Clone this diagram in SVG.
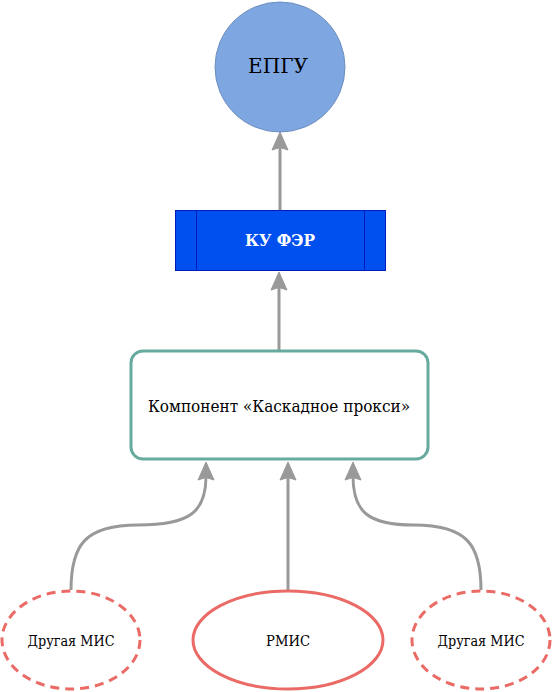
<svg xmlns="http://www.w3.org/2000/svg" width="553" height="692" viewBox="0 0 553 692">
<style>
.edge{fill:none;stroke:#999999;stroke-width:3}
.mis{fill:#fff;stroke:#EA6B66;stroke-width:3}
.t{font-family:"DejaVu Serif","Liberation Serif",serif;fill:#000;text-anchor:middle}
</style>
<defs>
<path id="up" d="M0,0 L8,18 L0,15.5 L-8,18 Z" fill="#999999" stroke="#999999" stroke-width="1" stroke-linejoin="miter"/>
</defs>
<rect width="553" height="692" fill="#fff"/>
<g id="connectors">
<path class="edge" d="M280,210 L280,146"/>
<use href="#up" x="280" y="132"/>
<path class="edge" d="M279,350 L279,286"/>
<use href="#up" x="279" y="272"/>
<path class="edge" d="M288,590 L288,476"/>
<use href="#up" x="288" y="462"/>
<path class="edge" d="M71,590 C71,545 85,525 138,525 C190,525 206,512 206,476"/>
<use href="#up" x="206" y="462"/>
<path class="edge" d="M481,590 C481,545 467,525 414,525 C368,525 353,512 353,476"/>
<use href="#up" x="353" y="462"/>
</g>
<g id="epgu">
<circle cx="280" cy="67" r="65" fill="#7EA6E0" stroke="#6C8EBF" stroke-width="1"/>
<text class="t" x="278" y="73" font-size="21" textLength="60" lengthAdjust="spacingAndGlyphs">ЕПГУ</text>
</g>
<g id="ku-fer">
<rect x="175.5" y="210.5" width="210" height="60" fill="#0050EF" stroke="#001DBC" stroke-width="1"/>
<line x1="196.5" y1="210.5" x2="196.5" y2="270.5" stroke="#001DBC"/>
<line x1="364.5" y1="210.5" x2="364.5" y2="270.5" stroke="#001DBC"/>
<text class="t" x="280" y="246" font-size="16" font-weight="bold" style="fill:#ffffff" textLength="70" lengthAdjust="spacingAndGlyphs">КУ ФЭР</text>
</g>
<g id="proxy">
<rect x="131" y="351" width="297" height="108" rx="12" ry="12" fill="#fff" stroke="#67AB9F" stroke-width="3"/>
<text class="t" x="279" y="412" font-size="16" textLength="262" lengthAdjust="spacingAndGlyphs">Компонент «Каскадное прокси»</text>
</g>
<g id="mis-left">
<ellipse class="mis" cx="71" cy="640" rx="69" ry="49" stroke-dasharray="9 6"/>
<text class="t" x="71" y="646" font-size="15" textLength="87" lengthAdjust="spacingAndGlyphs">Другая МИС</text>
</g>
<g id="rmis">
<ellipse class="mis" cx="288" cy="640" rx="95" ry="49"/>
<text class="t" x="288" y="646" font-size="15" textLength="44" lengthAdjust="spacingAndGlyphs">РМИС</text>
</g>
<g id="mis-right">
<ellipse class="mis" cx="481" cy="640" rx="69" ry="49" stroke-dasharray="9 6"/>
<text class="t" x="481" y="646" font-size="15" textLength="87" lengthAdjust="spacingAndGlyphs">Другая МИС</text>
</g>
</svg>
